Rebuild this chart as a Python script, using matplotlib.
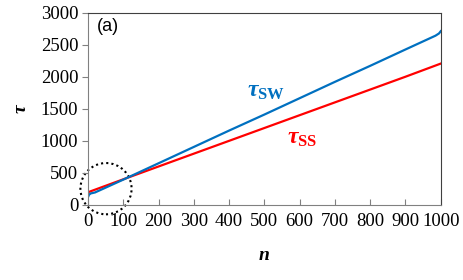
import matplotlib.pyplot as plt
from matplotlib.patches import Ellipse

# data
n_sw = [0, 3, 8, 20, 100, 200, 300, 400, 500, 600, 700, 800, 900, 985, 995, 1000]
tau_sw = [120, 160, 180, 195, 395, 650, 905, 1160, 1410, 1665, 1920, 2170, 2425, 2640, 2675, 2710]
n_ss = [0, 100, 200, 300, 400, 500, 600, 700, 800, 900, 1000]
tau_ss = [198, 400, 600, 800, 1000, 1200, 1400, 1600, 1800, 2000, 2205]
xticks = list(range(0, 1001, 100))
yticks = list(range(0, 3001, 500))

plt.rcParams['mathtext.fontset'] = 'custom'
plt.rcParams['mathtext.it'] = 'Liberation Serif:bold:italic'
plt.rcParams['mathtext.rm'] = 'Liberation Serif:bold'

fig = plt.figure(figsize=(4.63, 2.8), dpi=100)
ax = fig.add_axes([0.190, 0.268, 0.762, 0.687])

ax.plot(n_ss, tau_ss, color='#FF0000', lw=1.6)
ax.plot(n_sw, tau_sw, color='#0070C0', lw=1.6)

ax.set_xlim(0, 1000)
ax.set_ylim(0, 3000)
ax.set_xticks(xticks)
ax.set_yticks(yticks)
ax.tick_params(axis='x', direction='in', length=4, pad=6, color='#808080')
ax.tick_params(axis='y', direction='out', length=4, pad=3, color='#808080')
for lab in ax.get_xticklabels() + ax.get_yticklabels():
    lab.set_fontfamily('Liberation Serif')
    lab.set_fontsize(13.5)

for s in ['left', 'bottom']:
    ax.spines[s].set_color('#808080')
for s in ['top', 'right']:
    ax.spines[s].set_color('#404040')

ax.set_xlabel('n', family='Liberation Serif', style='italic', weight='bold', fontsize=14, labelpad=12)
ax.set_ylabel(r'$\tau$', fontsize=14, labelpad=8, rotation=90)

ax.text(0.025, 0.97, '(a)', transform=ax.transAxes, family='Liberation Sans',
        fontsize=13, va='top', ha='left')
ax.text(450, 1690, r'$\tau_{\mathrm{SW}}$', color='#0070C0', fontsize=17)
ax.text(565, 960, r'$\tau_{\mathrm{SS}}$', color='#FF0000', fontsize=17)

circ = Ellipse((51, 254), 145, 800, fill=False, ls=(0, (1, 1.5)), lw=1.5,
               color='black', clip_on=False)
ax.add_patch(circ)

fig.savefig('out.png', dpi=100)
